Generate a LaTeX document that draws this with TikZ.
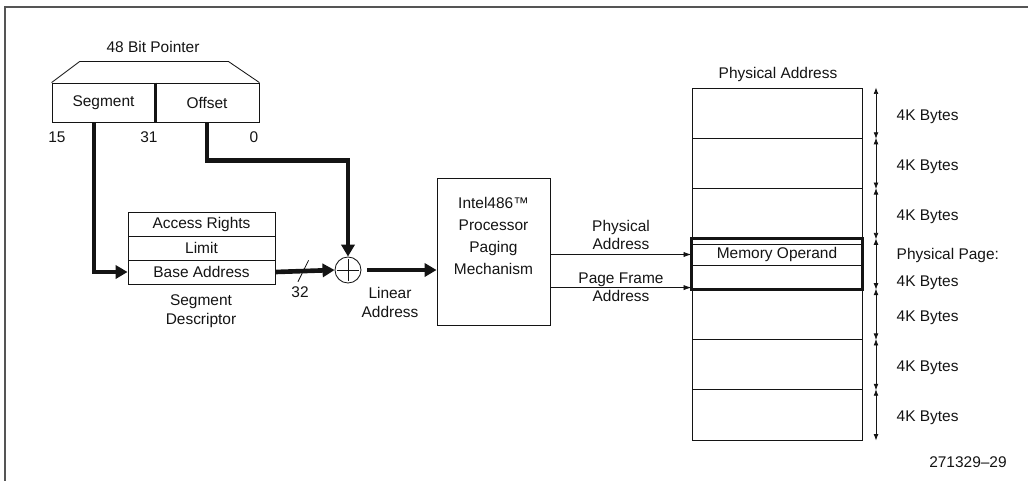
\documentclass[tikz,border=0pt]{standalone}
\usepackage{fontspec}
\setmainfont{Liberation Sans}
\usepackage{xcolor}
\usepackage{tikz}
\usetikzlibrary{arrows.meta, positioning, calc}
\definecolor{inkblack}{RGB}{20, 20, 20}
\definecolor{framegray}{RGB}{85, 85, 85}

\begin{document}
\begin{tikzpicture}[
    x=0.025cm, y=-0.025cm,
    lbl/.style={font=\fontsize{11}{13}\selectfont, text=inkblack, inner sep=1pt, align=center},
    cell/.style={rectangle, draw=inkblack, line width=0.6pt, inner sep=0pt,
                 font=\fontsize{11}{13}\selectfont, text=inkblack},
    page/.style={cell, minimum width=4.25cm, minimum height=1.257cm},
    bus/.style={-{Triangle[length=0.3cm, width=0.33cm]}, line width=3.3pt, inkblack},
    wire/.style={-{Latex[length=0.2cm, width=0.13cm]}, line width=0.6pt, inkblack},
    dim/.style={{Latex[length=0.16cm, width=0.12cm]}-{Latex[length=0.16cm, width=0.12cm]},
                line width=0.5pt, inkblack},
    cut/.style={inner sep=0pt, minimum width=0.15cm, minimum height=0.42cm}
]
\useasboundingbox (0,0) rectangle (1028,481);

% Frame
\draw[framegray, line width=1.5pt] (1028,7) -- (5,7) -- (5,481);

% 48 bit pointer
\node[lbl] (ptrttl) at (153,47) {48 Bit Pointer};
\node[cell, minimum width=2.575cm, minimum height=0.975cm] (ptrseg) at (103.5,102.5) {Segment};
\node[cell, minimum width=2.6cm, minimum height=0.975cm] (ptroff) at (207,102.5) {Offset};
\draw[inkblack, line width=0.6pt] (ptrseg.north west) -- ++(28,-21) -- ++(149,0) -- (ptroff.north east);
\draw[inkblack, line width=2pt] (ptrseg.north east) -- (ptrseg.south east);
\node[lbl] (bit15) at (57,137) {15};
\node[lbl] (bit31) at (149,137) {31};
\node[lbl] (bit0)  at (254,137) {0};

% Segment descriptor
\node[cell, minimum width=3.675cm, minimum height=0.6cm] (access) at (201.5,224) {Access Rights};
\node[cell, minimum width=3.675cm, minimum height=0.6cm] (limit)  at (201.5,248) {Limit};
\node[cell, minimum width=3.675cm, minimum height=0.6cm] (base)   at (201.5,272) {Base Address};
\node[lbl, font=\fontsize{11}{13.5}\selectfont] (desc) at (201,311.5) {Segment\\Descriptor};

% Adder and paging unit
\node[circle, draw=inkblack, line width=0.6pt, minimum size=0.65cm, inner sep=0pt] (sum) at (348,270) {};
\draw[inkblack, line width=0.6pt] ([yshift=-2pt]sum.north) -- ([yshift=2pt]sum.south)
                                  ([xshift=2pt]sum.west) -- ([xshift=-2pt]sum.east);
\node[lbl] (w32) at (300,292) {32};
\node[lbl, font=\fontsize{11}{13.5}\selectfont] (linad) at (390,302.5) {Linear\\Address};
\node[cell, minimum width=2.825cm, minimum height=3.675cm] (paging) at (493.5,251.5) {};
\node[lbl, font=\fontsize{11}{15.6}\selectfont] (pagtxt) at (493.5,236) {Intel486™\\Processor\\Paging\\Mechanism};

% Physical memory
\node[lbl] (memttl) at (778,74) {Physical Address};
\foreach \i in {1,...,7}
  \node[page] (p\i) at (777,62.86+50.29*\i) {};
\node[cell, minimum width=4.25cm, minimum height=0.525cm] (opnd) at (777,254.5) {Memory Operand};
\draw[inkblack, line width=2pt] (p4.north west) rectangle (p4.south east);

% Page sizes
\coordinate (dimx) at (876,0);
\coordinate (szx) at (895,0);
\foreach \i in {1,...,7}
  \draw[dim] (p\i.north -| dimx) -- (p\i.south -| dimx);
\foreach \i in {1,2,3,5,6,7}
  \node[lbl, anchor=west] (sz\i) at ([yshift=-0.08cm]p\i.east -| szx) {4K Bytes};
\node[lbl, anchor=west, align=left, font=\fontsize{11}{19}\selectfont] (sz4) at ([yshift=-0.12cm]p4.east -| szx) {Physical Page:\\4K Bytes};

\node[lbl] (figno) at (968,462) {271329--29};

% Flows: pointer
\draw[bus] ([xshift=-0.24cm]ptrseg.south) |- (base.west);
\draw[bus] (ptroff.south) -- ++(0,38) -| (sum.north);
\draw[bus] (base.east) -- node[cut, pos=0.47] (cut) {} (sum.west);
\draw[inkblack, line width=0.6pt] (cut.south west) -- (cut.north east);

% Flows: paging
\draw[bus, shorten <=0.15cm] (sum.east) -- (sum.east -| paging.west);
\coordinate (pfa) at ([yshift=0.05cm]p4.south west);
\draw[wire] (paging.east |- opnd.west) -- node[lbl, above=2pt] (phyad) {Physical\\Address} (opnd.west);
\draw[wire] (paging.east |- pfa) -- node[lbl] (pfad) {Page Frame\\Address} (pfa);

\end{tikzpicture}
\end{document}
